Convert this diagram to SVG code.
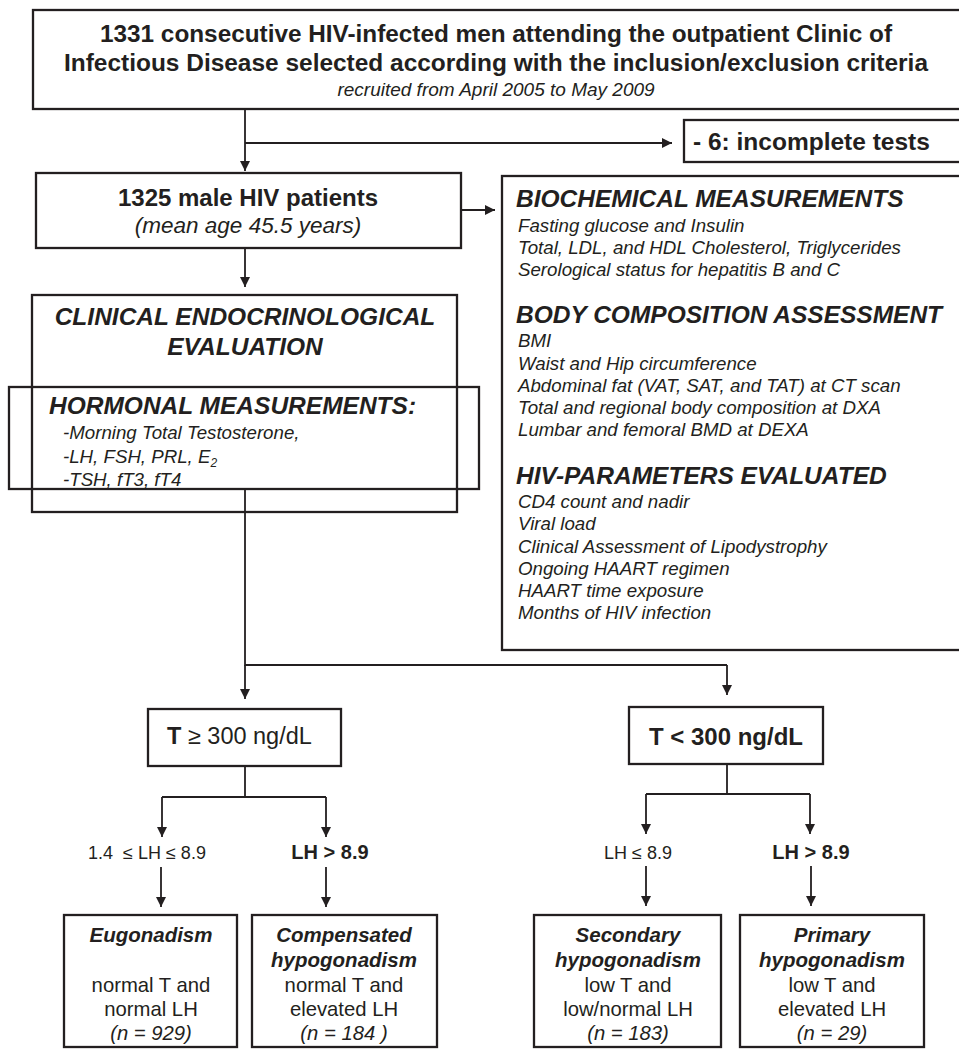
<svg xmlns="http://www.w3.org/2000/svg" width="959" height="1050" viewBox="0 0 959 1050">
<defs>
<marker id="ah" viewBox="0 0 10 10" refX="10" refY="5" markerWidth="10" markerHeight="10" markerUnits="userSpaceOnUse" orient="auto">
<path d="M0,0 L10,5 L0,10 Z" fill="#231f20"/>
</marker>
</defs>
<style>
.box{fill:none;stroke:#231f20;stroke-width:2.3}
.con{fill:none;stroke:#231f20;stroke-width:1.8}
.arr{fill:none;stroke:#231f20;stroke-width:1.8;marker-end:url(#ah)}
text{fill:#231f20;font-family:"Liberation Sans",Arial,sans-serif}
.b{font-weight:bold}
.i{font-style:italic}
.bi{font-weight:bold;font-style:italic}
.c{text-anchor:middle}
.it{font-style:italic;font-size:18.7px}
.hd{font-weight:bold;font-style:italic;font-size:24.5px}
</style>
<rect width="959" height="1050" fill="#fff"/>

<g id="connectors">
<path class="arr" d="M245,109 V171"/>
<path class="arr" d="M245,143 H672"/>
<path class="arr" d="M461,210 H495"/>
<path class="arr" d="M245,249 V287"/>
<path class="con" d="M245,489 V665 H727"/>
<path class="arr" d="M245,665 V699"/>
<path class="arr" d="M727,665 V695"/>
<path class="con" d="M245,766 V797"/>
<path class="con" d="M162,797 H326"/>
<path class="arr" d="M162,797 V837"/>
<path class="arr" d="M326,797 V837"/>
<path class="arr" d="M161,867 V907"/>
<path class="arr" d="M326,867 V907"/>
<path class="con" d="M727,764 V794"/>
<path class="con" d="M646,794 H810"/>
<path class="arr" d="M646,794 V834"/>
<path class="arr" d="M810,794 V834"/>
<path class="arr" d="M646,866 V906"/>
<path class="arr" d="M811,866 V906"/>
</g>

<g id="n-top">
<rect class="box" x="33" y="10" width="930" height="99"/>
<text class="b c" x="496" y="42" font-size="23" textLength="792" lengthAdjust="spacingAndGlyphs">1331 consecutive HIV-infected men attending the outpatient Clinic of</text>
<text class="b c" x="496" y="71" font-size="23" textLength="864" lengthAdjust="spacingAndGlyphs">Infectious Disease selected according with the inclusion/exclusion criteria</text>
<text class="i c" x="496" y="96" font-size="19">recruited from April 2005 to May 2009</text>
</g>

<g id="n-incomplete">
<rect class="box" x="684" y="120" width="280" height="42"/>
<text class="b" x="693" y="150" font-size="24.5">- 6: incomplete tests</text>
</g>

<g id="n-1325">
<rect class="box" x="36" y="173" width="425" height="75"/>
<text class="b c" x="248" y="206" font-size="24">1325 male HIV patients</text>
<text class="i c" x="248" y="233" font-size="22.5">(mean age 45.5 years)</text>
</g>

<g id="n-measures">
<rect class="box" x="502" y="176" width="461" height="474"/>
<text class="hd" x="516" y="207">BIOCHEMICAL MEASUREMENTS</text>
<text class="it" x="518" y="232">Fasting glucose and Insulin</text>
<text class="it" x="518" y="254">Total, LDL, and HDL Cholesterol, Triglycerides</text>
<text class="it" x="518" y="276">Serological status for hepatitis B and C</text>
<text class="hd" x="516" y="323">BODY COMPOSITION ASSESSMENT</text>
<text class="it" x="518" y="347">BMI</text>
<text class="it" x="518" y="370">Waist and Hip circumference</text>
<text class="it" x="518" y="392">Abdominal fat (VAT, SAT, and TAT) at CT scan</text>
<text class="it" x="518" y="414">Total and regional body composition at DXA</text>
<text class="it" x="518" y="436">Lumbar and femoral BMD at DEXA</text>
<text class="hd" x="516" y="484">HIV-PARAMETERS EVALUATED</text>
<text class="it" x="518" y="508">CD4 count and nadir</text>
<text class="it" x="518" y="530">Viral load</text>
<text class="it" x="518" y="553">Clinical Assessment of Lipodystrophy</text>
<text class="it" x="518" y="575">Ongoing HAART regimen</text>
<text class="it" x="518" y="597">HAART time exposure</text>
<text class="it" x="518" y="619">Months of HIV infection</text>
</g>

<g id="n-clinical">
<rect class="box" x="32" y="295" width="425" height="217"/>
<text class="hd c" x="245" y="325">CLINICAL ENDOCRINOLOGICAL</text>
<text class="hd c" x="245" y="355">EVALUATION</text>
</g>

<g id="n-hormonal">
<rect class="box" x="9" y="387" width="470" height="102"/>
<text class="hd" x="49" y="414">HORMONAL MEASUREMENTS:</text>
<text class="it" x="63" y="439">-Morning Total Testosterone,</text>
<text class="it" x="63" y="463">-LH, FSH, PRL, E<tspan font-size="12" dy="4">2</tspan></text>
<text class="it" x="63" y="486">-TSH, fT3, fT4</text>
</g>

<g id="n-tge300">
<rect class="box" x="148" y="709" width="193" height="57"/>
<text x="167" y="744" font-size="23.5"><tspan class="b">T</tspan> ≥ 300 ng/dL</text>
</g>

<g id="n-tlt300">
<rect class="box" x="629" y="707" width="194" height="57"/>
<text class="b c" x="726" y="745" font-size="24">T &lt; 300 ng/dL</text>
</g>

<g id="labels">
<text class="c" x="147" y="859" font-size="18" xml:space="preserve">1.4  ≤ LH ≤ 8.9</text>
<text class="b c" x="330" y="859" font-size="20">LH &gt; 8.9</text>
<text class="c" x="638" y="859" font-size="18">LH ≤ 8.9</text>
<text class="b c" x="811" y="859" font-size="20">LH &gt; 8.9</text>
</g>

<g id="n-eugonadism">
<rect class="box" x="64" y="915" width="173" height="132"/>
<text class="bi c" x="151" y="942" font-size="20.5">Eugonadism</text>
<text class="c" x="151" y="992" font-size="20.3">normal T and</text>
<text class="c" x="151" y="1016" font-size="20.3">normal LH</text>
<text class="i c" x="151" y="1040" font-size="20.3">(n = 929)</text>
</g>

<g id="n-compensated">
<rect class="box" x="252" y="915" width="185" height="132"/>
<text class="bi c" x="344" y="942" font-size="20.5">Compensated</text>
<text class="bi c" x="344" y="967" font-size="20.5">hypogonadism</text>
<text class="c" x="344" y="992" font-size="20.3">normal T and</text>
<text class="c" x="344" y="1016" font-size="20.3">elevated LH</text>
<text class="i c" x="344" y="1040" font-size="20.3">(n = 184 )</text>
</g>

<g id="n-secondary">
<rect class="box" x="534" y="915" width="187" height="132"/>
<text class="bi c" x="628" y="942" font-size="20.5">Secondary</text>
<text class="bi c" x="628" y="967" font-size="20.5">hypogonadism</text>
<text class="c" x="628" y="992" font-size="20.3">low T and</text>
<text class="c" x="628" y="1016" font-size="20.3">low/normal LH</text>
<text class="i c" x="628" y="1040" font-size="20.3">(n = 183)</text>
</g>

<g id="n-primary">
<rect class="box" x="740" y="915" width="184" height="132"/>
<text class="bi c" x="832" y="942" font-size="20.5">Primary</text>
<text class="bi c" x="832" y="967" font-size="20.5">hypogonadism</text>
<text class="c" x="832" y="992" font-size="20.3">low T and</text>
<text class="c" x="832" y="1016" font-size="20.3">elevated LH</text>
<text class="i c" x="832" y="1040" font-size="20.3">(n = 29)</text>
</g>
</svg>
